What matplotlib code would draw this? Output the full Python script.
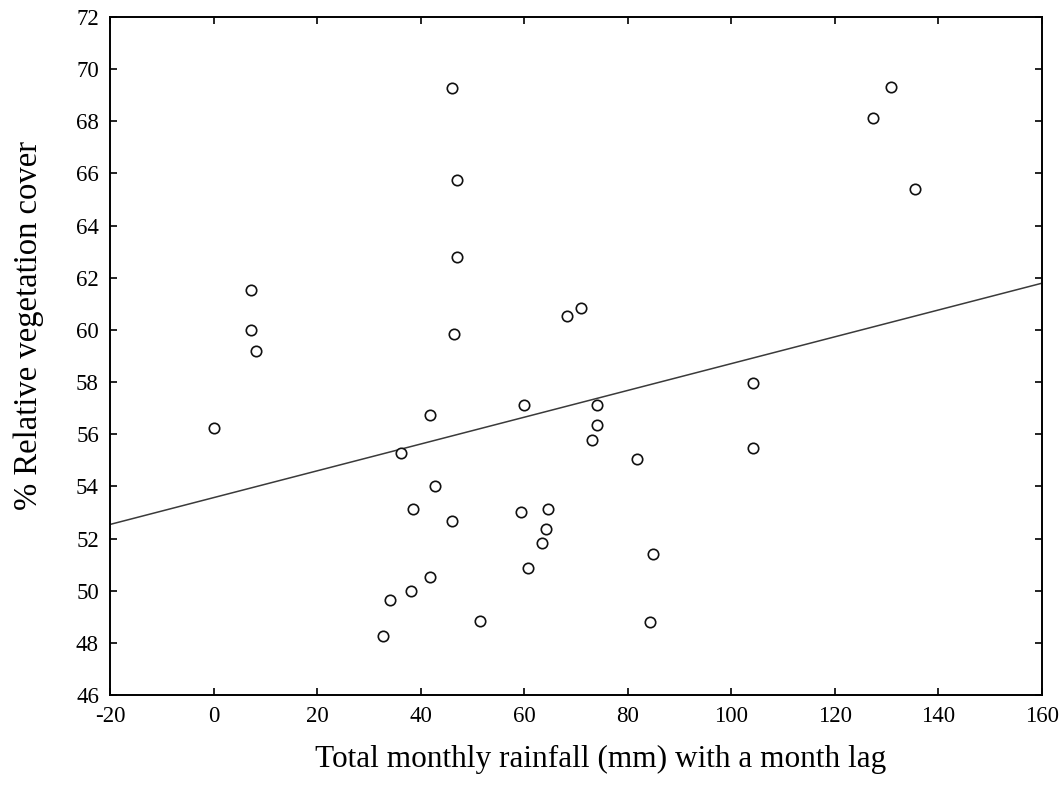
import matplotlib
matplotlib.use("Agg")
import matplotlib.pyplot as plt
import numpy as np

rainfall = [0.0, 41.8, 59.9, 36.1, 42.7, 38.5, 46.0, 59.3, 64.6, 64.2, 63.5, 60.8,
            41.8, 38.2, 34.0, 32.7, 51.4, 74.0, 74.0, 73.1, 81.8, 104.2, 84.8, 84.2,
            46.0, 47.0, 47.0, 46.4, 68.3, 71.0, 104.2, 130.9, 127.3, 135.4,
            7.2, 7.2, 8.2]
cover = [56.24, 56.72, 57.14, 55.28, 54.03, 53.14, 52.67, 53.02, 53.14, 52.37, 51.84, 50.88,
         50.52, 49.98, 49.63, 48.25, 48.85, 57.14, 56.37, 55.77, 55.05, 55.46, 51.41, 48.80,
         69.26, 65.74, 62.81, 59.83, 60.53, 60.85, 57.98, 69.32, 68.12, 65.39,
         61.53, 59.98, 59.18]

fit_intercept = 53.57
fit_slope = 0.0514

x_ticks = [-20, 0, 20, 40, 60, 80, 100, 120, 140, 160]
y_ticks = [46, 48, 50, 52, 54, 56, 58, 60, 62, 64, 66, 68, 70, 72]

plt.rcParams['font.family'] = ['Liberation Serif', 'DejaVu Serif']
plt.rcParams['axes.unicode_minus'] = False

fig = plt.figure(figsize=(10.62, 7.85), dpi=100)
ax = fig.add_axes([0.1036, 0.1146, 0.8776, 0.8637])

xl = np.array([x_ticks[0], x_ticks[-1]], dtype=float)
ax.plot(xl, fit_intercept + fit_slope * xl, color='#3a3a3a', lw=1.1, zorder=2)
ax.plot(rainfall, cover, linestyle='none', marker='o', markersize=7.5,
        markerfacecolor='white', markeredgecolor='#111111', markeredgewidth=1.2, zorder=3)

ax.set_xlim(x_ticks[0], x_ticks[-1])
ax.set_ylim(y_ticks[0], y_ticks[-1])
ax.set_xticks(x_ticks)
ax.set_yticks(y_ticks)
ax.tick_params(direction='in', length=5, width=1.2, top=True, right=True,
               labelsize=16.5, pad=8)
for s in ax.spines.values():
    s.set_linewidth(1.4)

ax.set_xlabel('Total monthly rainfall (mm) with a month lag', fontsize=22.5)
ax.set_ylabel('% Relative vegetation cover', fontsize=23.5)
ax.xaxis.set_label_coords(0.526, -0.074)
ax.yaxis.set_label_coords(-0.0705, 0.545)

fig.savefig('out.png', dpi=100)
